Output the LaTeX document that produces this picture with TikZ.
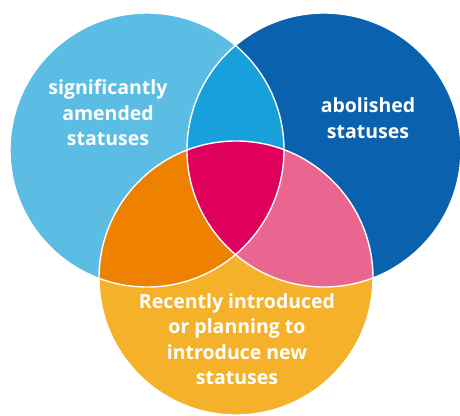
\documentclass[tikz,border=0pt]{standalone}
\usepackage{fontspec}
\setmainfont{Open Sans}
\usetikzlibrary{positioning}
\definecolor{lblue}{HTML}{5BBCE4}
\definecolor{dblue}{HTML}{0A62AE}
\definecolor{mblue}{HTML}{18A0DC}
\definecolor{sunny}{HTML}{F6B12A}
\definecolor{orng}{HTML}{EE8200}
\definecolor{pinky}{HTML}{E8668F}
\definecolor{crim}{HTML}{DF005E}

\begin{document}
\begin{tikzpicture}
[x=1pt,y=-1pt,
set/.style={line width=1.4pt,draw=white},
lbl/.style={text=white,align=center,font=\fontsize{19.5}{25.5}\selectfont\bfseries}]
\useasboundingbox (0,0) rectangle (460,415);
%%
% centres
%%
\coordinate (cl) at (147,150);
\coordinate (cr) at (324,150);
\coordinate (cb) at (236,278);
\def\rad{137}
%%
% sets
%%
\fill[lblue] (cl) circle (\rad);
\fill[dblue] (cr) circle (\rad);
\fill[sunny] (cb) circle (\rad);
%%
% overlaps
%%
\begin{scope}
\clip (cr) circle (\rad);
\fill[pinky] (cb) circle (\rad);
\end{scope}
\begin{scope}
\clip (cl) circle (\rad);
\fill[mblue] (cr) circle (\rad);
\fill[orng] (cb) circle (\rad);
\clip (cr) circle (\rad);
\fill[crim] (cb) circle (\rad);
\end{scope}
%%
% borders
%%
\draw[set] (cl) circle (\rad) (cr) circle (\rad) (cb) circle (\rad);
%%
% labels
%%
\node[lbl] (amended) at (108,113) {significantly\\amended\\statuses};
\node[lbl] (abolished) at (368,118) {abolished\\statuses};
\node[lbl] (new) at (237,339) {Recently introduced\\or planning to\\introduce new\\statuses};
\end{tikzpicture}
\end{document}
